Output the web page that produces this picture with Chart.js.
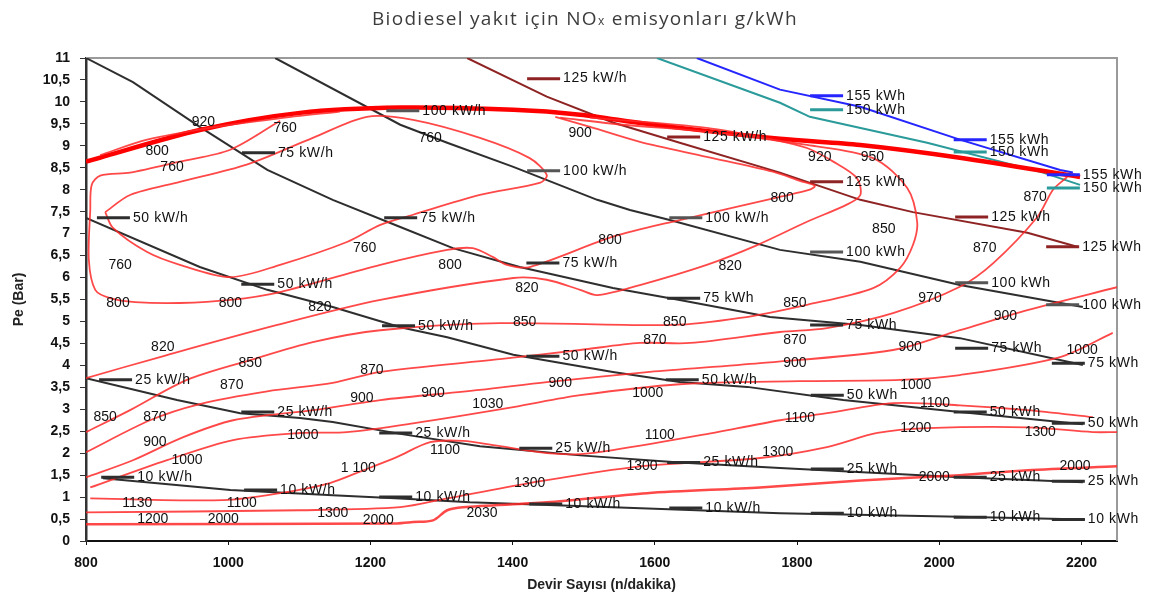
<!DOCTYPE html>
<html>
<head>
<meta charset="utf-8">
<title>Biodiesel NOx</title>
<script src="https://cdn.jsdelivr.net/npm/chart.js@4.4.1/dist/chart.umd.min.js"></script>
<style>
  body { margin: 0; background: #fff; }
  #kutu { position: relative; width: 1154px; height: 599px; }
  #baslik { position: absolute; left: 372px; top: 5px; font: 19px "Open Sans", sans-serif; color: #3c3c3c; white-space: nowrap; letter-spacing: 1.3px; }
  #baslik span { font-size: 12px; }
</style>
</head>
<body>
<div id="kutu">
  <div id="baslik">Biodiesel yakıt için NO<span>x</span> emisyonları g/kWh</div>
  <canvas id="grafik" width="1154" height="599"></canvas>
</div>
<script>
// eksenler
const xTicks = [800, 1000, 1200, 1400, 1600, 1800, 2000, 2200];
const yTicks = [0, 0.5, 1, 1.5, 2, 2.5, 3, 3.5, 4, 4.5, 5, 5.5, 6, 6.5, 7, 7.5, 8, 8.5, 9, 9.5, 10, 10.5, 11];

// guc egrileri [devir, Pe]
const kw10 = [[824,1.43],[1003,1.16],[1147,1.04],[1242,0.97],[1340,0.88],[1541,0.77],[1776,0.63],[2029,0.55],[2205,0.49]];
const kw25 = [[800,3.71],[928,3.21],[1017,2.91],[1101,2.80],[1147,2.71],[1242,2.44],[1354,2.16],[1495,1.95],[1635,1.79],[1776,1.66],[2029,1.45],[2202,1.34]];
const kw50 = [[800,7.36],[960,6.24],[1055,5.72],[1147,5.33],[1242,4.87],[1308,4.64],[1401,4.24],[1541,3.85],[1635,3.62],[1730,3.51],[1865,3.21],[2029,2.94],[2202,2.66]];
const kw75 = [[800,11.0],[866,10.45],[960,9.43],[1055,8.45],[1147,7.77],[1242,7.15],[1316,6.67],[1410,6.24],[1541,5.76],[1635,5.49],[1762,5.10],[1889,4.92],[2029,4.62],[2202,4.01]];
const kw100 = [[1066,11.0],[1242,9.48],[1308,9.07],[1401,8.52],[1519,7.77],[1565,7.54],[1621,7.31],[1776,6.63],[1889,6.36],[2029,5.83],[2202,5.33]];
const kw125 = [[1336,11.0],[1448,10.12],[1541,9.53],[1635,9.07],[1776,8.39],[1889,7.77],[1963,7.49],[2124,7.02],[2194,6.70]];
const kw150 = [[1603,11.0],[1776,9.98],[1818,9.66],[1983,9.07],[2146,8.39],[2198,8.11]];
const kw155 = [[1659,11.0],[1776,10.28],[1889,9.89],[2029,9.14],[2170,8.45],[2188,8.39]];

// NOx esdeger egrileri
const noxSinir = [[800,8.64],[960,9.36],[1101,9.75],[1242,9.87],[1401,9.82],[1495,9.71],[1589,9.50],[1776,9.16],[1889,9.02],[2029,8.73],[2198,8.29]];
const nox920 = [[820,8.79],[886,9.14],[974,9.41],[1069,9.62],[1157,9.78]];
const nox760 = [[827,7.49],[862,7.88],[932,8.18],[1026,8.57],[1119,9.18],[1195,9.66],[1260,9.59],[1354,9.18],[1424,8.72],[1448,8.34],[1439,8.16],[1354,7.88],[1260,7.43],[1214,7.20],[1167,6.81],[1073,6.29],[1003,6.01],[932,6.29],[886,6.58],[838,7.13],[827,7.49]];
const nox800 = [[1073,9.57],[1003,8.91],[932,8.64],[862,8.39],[820,8.32],[808,8.11],[806,7.54],[804,6.40],[813,5.72],[834,5.53],[869,5.44],[932,5.42],[1003,5.49],[1073,5.67],[1214,6.29],[1308,6.63],[1344,6.67],[1372,6.47],[1392,6.29],[1424,6.24],[1541,6.93],[1635,7.31],[1776,7.84],[1818,8.00],[1825,8.09],[1804,8.20],[1766,8.41],[1673,8.75],[1579,9.09],[1509,9.43],[1460,9.66]];
const nox820 = [[800,3.71],[904,4.19],[1069,4.92],[1214,5.49],[1401,5.99],[1448,5.95],[1495,5.72],[1519,5.60],[1579,5.83],[1673,6.29],[1744,6.74],[1814,7.27],[1870,7.66],[1889,7.88],[1884,8.27],[1851,8.64],[1814,8.95],[1766,9.14],[1673,9.41],[1509,9.64]];
const nox850 = [[800,2.48],[862,2.98],[942,3.67],[1031,4.12],[1119,4.53],[1214,4.80],[1382,4.96],[1626,4.92],[1720,5.08],[1814,5.38],[1907,5.76],[1945,6.22],[1963,6.74],[1969,7.26],[1955,8.04],[1907,8.72],[1814,9.02],[1673,9.32],[1555,9.48],[1467,9.64]];
const nox870 = [[800,2.02],[890,2.75],[960,3.12],[1055,3.41],[1147,3.60],[1214,3.85],[1382,4.14],[1495,4.35],[1579,4.51],[1650,4.51],[1776,4.76],[1842,4.85],[1935,5.19],[2029,5.79],[2076,6.33],[2138,7.38],[2160,8.00],[2180,8.29]];
const nox900 = [[800,1.45],[866,1.84],[936,2.36],[1007,2.75],[1119,2.98],[1214,3.21],[1354,3.44],[1448,3.62],[1593,3.85],[1748,4.05],[1935,4.35],[2029,4.80],[2124,5.26],[2250,5.78]];
const nox1000 = [[806,1.22],[914,1.84],[1007,2.30],[1101,2.46],[1167,2.48],[1260,2.68],[1401,3.05],[1495,3.32],[1635,3.57],[1804,3.64],[1945,3.67],[2029,3.78],[2170,4.19],[2244,4.74]];
const nox1100 = [[806,0.97],[993,0.93],[1073,1.09],[1143,1.32],[1190,1.61],[1237,1.91],[1284,2.25],[1330,2.28],[1378,2.17],[1448,2.00],[1495,1.98],[1541,2.07],[1664,2.41],[1776,2.75],[1842,2.91],[1935,3.14],[2029,3.09],[2124,2.98],[2216,2.82]];
const nox1300 = [[800,0.65],[1101,0.70],[1242,0.77],[1308,0.97],[1424,1.32],[1579,1.70],[1748,1.89],[1842,2.14],[1913,2.46],[1983,2.57],[2124,2.59],[2216,2.48],[2250,2.48]];
const nox2000 = [[800,0.38],[1237,0.40],[1260,0.43],[1288,0.47],[1308,0.70],[1330,0.77],[1448,0.88],[1589,1.09],[1748,1.22],[1889,1.38],[2029,1.50],[2124,1.61],[2250,1.70]];

// guc etiketleri [devir, Pe, yazi]
const kw10Tags = [[872,1.45,'10 kW/h'],[1073,1.16,'10 kW/h'],[1263,1.00,'10 kW/h'],[1474,0.84,'10 kW/h'],[1671,0.75,'10 kW/h'],[1870,0.63,'10 kWh'],[2071,0.54,'10 kWh'],[2209,0.49,'10 kWh']];
const kw25Tags = [[869,3.67,'25 kW/h'],[1069,2.94,'25 kW/h'],[1263,2.46,'25 kW/h'],[1460,2.11,'25 kW/h'],[1668,1.79,'25 kW/h'],[1870,1.64,'25 kWh'],[2071,1.45,'25 kWh'],[2209,1.36,'25 kWh']];
const kw50Tags = [[866,7.36,'50 kW/h'],[1069,5.85,'50 kW/h'],[1267,4.90,'50 kW/h'],[1470,4.21,'50 kW/h'],[1666,3.67,'50 kW/h'],[1870,3.32,'50 kWh'],[2071,2.94,'50 kWh'],[2209,2.68,'50 kWh']];
const kw75Tags = [[1070,8.84,'75 kW/h'],[1270,7.36,'75 kW/h'],[1470,6.33,'75 kW/h'],[1668,5.53,'75 kWh'],[1869,4.92,'75 kWh'],[2073,4.39,'75 kWh'],[2209,4.05,'75 kWh']];
const kw100Tags = [[1273,9.80,'100 kW/h'],[1471,8.43,'100 kW/h'],[1671,7.36,'100 kW/h'],[1869,6.58,'100 kWh'],[2073,5.88,'100 kWh'],[2201,5.38,'100 kWh']];
const kw125Tags = [[1471,10.53,'125 kW/h'],[1668,9.20,'125 kW/h'],[1869,8.18,'125 kWh'],[2073,7.38,'125 kWh'],[2201,6.70,'125 kWh']];
const kw150Tags = [[1869,9.82,'150 kWh'],[2071,8.86,'150 kWh'],[2202,8.04,'150 kWh']];
const kw155Tags = [[1869,10.14,'155 kWh'],[2071,9.14,'155 kWh'],[2202,8.34,'155 kWh']];

// NOx degerleri [devir, Pe, yazi]
const noxTags = [
  [965,9.55,'920'],[1080,9.41,'760'],[900,8.89,'800'],[921,8.52,'760'],[1284,9.18,'760'],[1495,9.30,'900'],
  [848,6.29,'760'],[845,5.42,'800'],[1003,5.42,'800'],[1129,5.33,'820'],[1192,6.67,'760'],[1312,6.29,'800'],
  [1420,5.76,'820'],[1537,6.86,'800'],[1706,6.26,'820'],[1779,7.81,'800'],[1832,8.75,'920'],[1906,8.75,'950'],
  [1922,7.11,'850'],[2135,7.84,'870'],[2064,6.67,'870'],[1797,5.42,'850'],[1987,5.53,'970'],[2093,5.12,'900'],
  [1417,4.99,'850'],[1628,4.99,'850'],[1600,4.58,'870'],[1797,4.58,'870'],[1797,4.05,'900'],[1959,4.42,'900'],
  [2201,4.35,'1000'],[1967,3.55,'1000'],[1590,3.37,'1000'],[1288,3.37,'900'],[1467,3.60,'900'],[1188,3.25,'900'],
  [908,4.42,'820'],[1031,4.05,'850'],[1202,3.89,'870'],[1005,3.55,'870'],[827,2.82,'850'],[897,2.82,'870'],
  [897,2.25,'900'],[942,1.84,'1000'],[1105,2.41,'1000'],[1365,3.12,'1030'],[1183,1.66,'1 100'],[1305,2.07,'1100'],
  [1607,2.41,'1100'],[1804,2.80,'1100'],[1994,3.14,'1100'],[872,0.86,'1130'],[1019,0.86,'1100'],[1147,0.63,'1300'],
  [1424,1.32,'1300'],[1582,1.70,'1300'],[1773,2.02,'1300'],[1967,2.57,'1200'],[2142,2.48,'1300'],[894,0.49,'1200'],
  [993,0.49,'2000'],[1211,0.47,'2000'],[1357,0.63,'2030'],[1993,1.45,'2000'],[2191,1.70,'2000']
];

const kirmizi = 'rgba(255,40,40,0.85)';
const siyah = '#2e2e2e';
const yazi = '"Liberation Sans", Arial, sans-serif';

function seri(pts, renk, kalinlik, egrilik) {
  return {
    data: pts.map(p => ({x: p[0], y: p[1]})),
    borderColor: renk,
    borderWidth: kalinlik,
    pointRadius: 0,
    tension: egrilik,
    fill: false
  };
}

const gucGruplari = [
  [kw10Tags, siyah], [kw25Tags, siyah], [kw50Tags, siyah], [kw75Tags, siyah], [kw100Tags, '#555'],
  [kw125Tags, '#8e2323'], [kw150Tags, '#2a9a9a'], [kw155Tags, '#2525ff']
];

const etiketler = {
  id: 'etiketler',
  beforeDatasetsDraw(chart) {
    const {ctx, chartArea: a} = chart;
    ctx.save();
    ctx.strokeStyle = '#9a9a9a';
    ctx.lineWidth = 2;
    ctx.beginPath();
    ctx.moveTo(a.left, a.top);
    ctx.lineTo(a.right, a.top);
    ctx.lineTo(a.right, a.bottom);
    ctx.stroke();
    ctx.restore();
  },
  afterDatasetsDraw(chart) {
    const {ctx} = chart;
    const x = chart.scales.x, y = chart.scales.y;
    ctx.save();
    ctx.textBaseline = 'middle';
    ctx.font = '14px ' + yazi;
    ctx.letterSpacing = '0.6px';
    ctx.textAlign = 'left';
    gucGruplari.forEach(([tags, renk]) => {
      tags.forEach(t => {
        const px = x.getPixelForValue(t[0]);
        const py = y.getPixelForValue(t[1]);
        ctx.strokeStyle = renk;
        ctx.lineWidth = 3;
        ctx.beginPath();
        ctx.moveTo(px - 36, py);
        ctx.lineTo(px - 3, py);
        ctx.stroke();
        ctx.fillStyle = '#111';
        ctx.fillText(t[2], px, py);
      });
    });
    ctx.letterSpacing = '0px';
    ctx.textAlign = 'center';
    noxTags.forEach(t => {
      ctx.fillStyle = '#111';
      ctx.fillText(t[2], x.getPixelForValue(t[0]), y.getPixelForValue(t[1]));
    });
    ctx.restore();
  }
};

const ctx = document.getElementById('grafik');
new Chart(ctx, {
  type: 'line',
  data: {
    datasets: [
      seri(nox2000, kirmizi, 2.5, 0.3),
      seri(nox1300, kirmizi, 1.8, 0.3),
      seri(nox1100, kirmizi, 1.8, 0.3),
      seri(nox1000, kirmizi, 1.8, 0.3),
      seri(nox900, kirmizi, 1.8, 0.3),
      seri(nox870, kirmizi, 1.8, 0.3),
      seri(nox850, kirmizi, 1.8, 0.3),
      seri(nox820, kirmizi, 1.8, 0.3),
      seri(nox800, kirmizi, 1.8, 0.3),
      seri(nox760, kirmizi, 1.8, 0.3),
      seri(nox920, kirmizi, 1.8, 0.3),
      seri(noxSinir, '#ff0000', 4.5, 0.3),
      seri(kw10, siyah, 2, 0),
      seri(kw25, siyah, 2, 0),
      seri(kw50, siyah, 2, 0),
      seri(kw75, siyah, 2, 0),
      seri(kw100, siyah, 2, 0),
      seri(kw125, '#8e2323', 2, 0),
      seri(kw150, '#2a9a9a', 2, 0),
      seri(kw155, '#2525ff', 2, 0)
    ]
  },
  options: {
    responsive: false,
    animation: false,
    layout: { padding: { left: 0, top: 58, right: 37, bottom: 0 } },
    plugins: { legend: { display: false }, tooltip: { enabled: false } },
    scales: {
      x: {
        type: 'linear',
        min: 800,
        max: 2250,
        afterBuildTicks: s => { s.ticks = xTicks.map(v => ({value: v})); },
        afterFit: s => { s.height = 58; },
        grid: { drawOnChartArea: false, tickLength: 4, color: '#111' },
        border: { color: '#111', width: 2 },
        ticks: {
          padding: 10, color: '#111', maxRotation: 0,
          font: { family: yazi, size: 14, weight: 'bold' },
          callback: v => String(v)
        },
        title: { display: true, text: 'Devir Sayısı (n/dakika)', color: '#222', font: { family: yazi, size: 14, weight: 'bold' }, padding: { top: 0, bottom: 5 } }
      },
      y: {
        type: 'linear',
        min: 0,
        max: 11,
        afterBuildTicks: s => { s.ticks = yTicks.map(v => ({value: v})); },
        afterFit: s => { s.width = 86; },
        grid: { drawOnChartArea: false, tickLength: 6, color: '#333' },
        border: { color: '#333', width: 2.5 },
        ticks: {
          padding: 10, color: '#111',
          font: { family: yazi, size: 14, weight: 'bold' },
          callback: v => String(v).replace('.', ',')
        },
        title: { display: true, text: 'Pe (Bar)', color: '#222', font: { family: yazi, size: 14, weight: 'bold' }, padding: { top: 11, bottom: 4 } }
      }
    }
  },
  plugins: [etiketler]
});
</script>
</body>
</html>
